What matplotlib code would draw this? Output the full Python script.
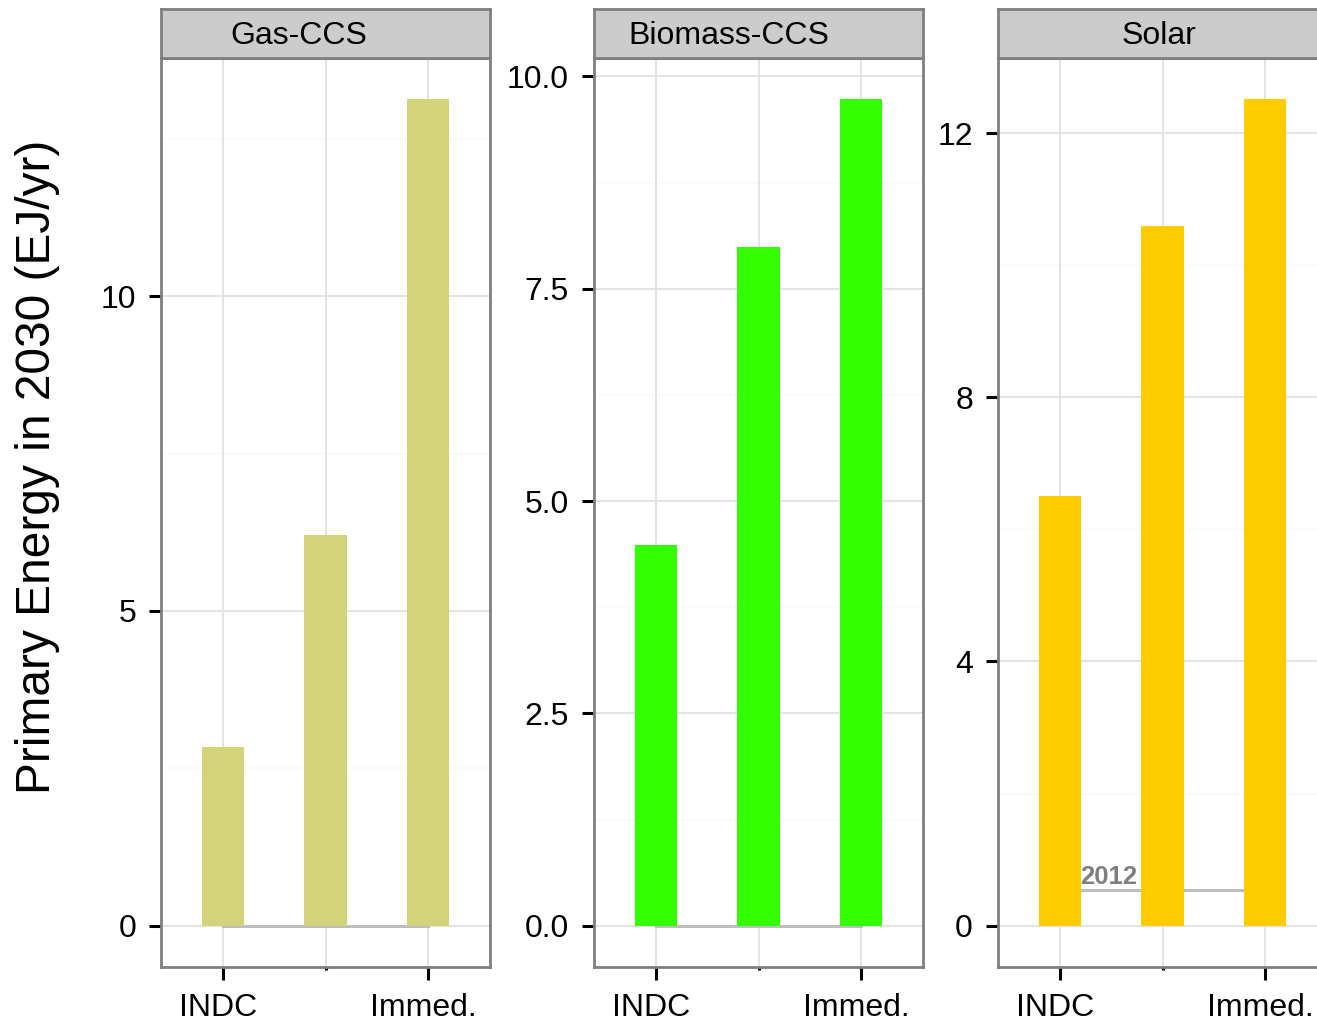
import matplotlib
matplotlib.use("Agg")
import matplotlib.pyplot as plt
import matplotlib.transforms as mtransforms
import numpy as np

plt.rcParams['font.family'] = ['Liberation Sans', 'DejaVu Sans']

# scenarios on the x axis (middle one has no printed label)
scenarios = ["INDC", "Delay", "Immed."]
scenario_labels = ["INDC", "", "Immed."]

techs = ["Gas-CCS", "Biomass-CCS", "Solar"]
colors = ["#D3D37A", "#33FF00", "#FFCC00"]

gas_ccs = [2.84, 6.21, 13.13]
biomass_ccs = [4.48, 7.99, 9.73]
solar = [6.51, 10.59, 12.51]
values = [gas_ccs, biomass_ccs, solar]

# 2012 reference level per technology
level_2012 = [0.0, 0.0, 0.54]

yticks = [[0, 5, 10], [0, 2.5, 5, 7.5, 10], [0, 4, 8, 12]]
yticklabels = [["0", "5", "10"], ["0.0", "2.5", "5.0", "7.5", "10.0"],
               ["0", "4", "8", "12"]]

W, H = 1317, 1023
fig = plt.figure(figsize=(W / 100, H / 100), dpi=100)

panel_left = [161, 594, 998]
panel_w = 329
panel_top, panel_bot = 58, 967
strip_top = 9

border = "#7F7F7F"
shift_left = mtransforms.ScaledTranslation(-5 / 100, 0, fig.dpi_scale_trans)

for k in range(3):
    ax = fig.add_axes([panel_left[k] / W, 1 - panel_bot / H,
                       panel_w / W, (panel_bot - panel_top) / H])
    x = np.arange(1, len(scenarios) + 1)
    vals = values[k]
    top = max(vals)
    ax.set_ylim(-0.05 * top, 1.05 * top)
    ax.set_xlim(0.4, 3.6)

    # grid
    major = yticks[k]
    step = major[1] - major[0]
    minor = np.arange(step / 2, 1.05 * top, step)
    for m in minor:
        ax.axhline(m, color="#FAFAFA", lw=1.2, zorder=0)
    for m in major:
        ax.axhline(m, color="#E3E3E3", lw=1.4, zorder=0.5)
    for xi in x:
        ax.axvline(xi, color="#E3E3E3", lw=1.4, zorder=0.5)

    # 2012 reference line
    ax.plot([1, 3], [level_2012[k]] * 2, color="#BEBEBE", lw=2.2, zorder=1)
    if k == 2:
        ax.text(1.2, level_2012[k] + 0.02, "2012", color="#7F7F7F",
                fontsize=18.5, fontweight="bold", ha="left", va="bottom",
                zorder=1.5)

    ax.bar(x, vals, width=0.41, color=colors[k], zorder=2)

    ax.set_xticks(x)
    ax.set_xticklabels(scenario_labels)
    ax.set_yticks(major)
    ax.set_yticklabels(yticklabels[k])
    ax.tick_params(axis="both", labelsize=23, length=9, width=2.2,
                   color="black")
    ax.tick_params(axis="x", pad=9.5)
    ax.tick_params(axis="y", pad=9)
    ax.xaxis.get_major_ticks()[1].tick1line.set_markersize(2)
    for lab in ax.get_xticklabels():
        lab.set_transform(lab.get_transform() + shift_left)
    for s in ax.spines.values():
        s.set_color(border)
        s.set_linewidth(2.0)

    # facet strip
    sax = fig.add_axes([panel_left[k] / W, 1 - panel_top / H,
                        panel_w / W, (panel_top - strip_top) / H])
    sax.set_facecolor("#CCCCCC")
    sax.set_xticks([])
    sax.set_yticks([])
    for s in sax.spines.values():
        s.set_color(border)
        s.set_linewidth(2.0)
    sax.text(0.42 if k == 0 else 0.41 if k == 1 else 0.49, 0.44, techs[k],
             transform=sax.transAxes, ha="center", va="center", fontsize=23)

fig.text(38 / W, 1 - 467 / H, "Primary Energy in 2030 (EJ/yr)",
         rotation=90, ha="center", va="center", fontsize=34.5)

fig.savefig("out.png", dpi=100)
